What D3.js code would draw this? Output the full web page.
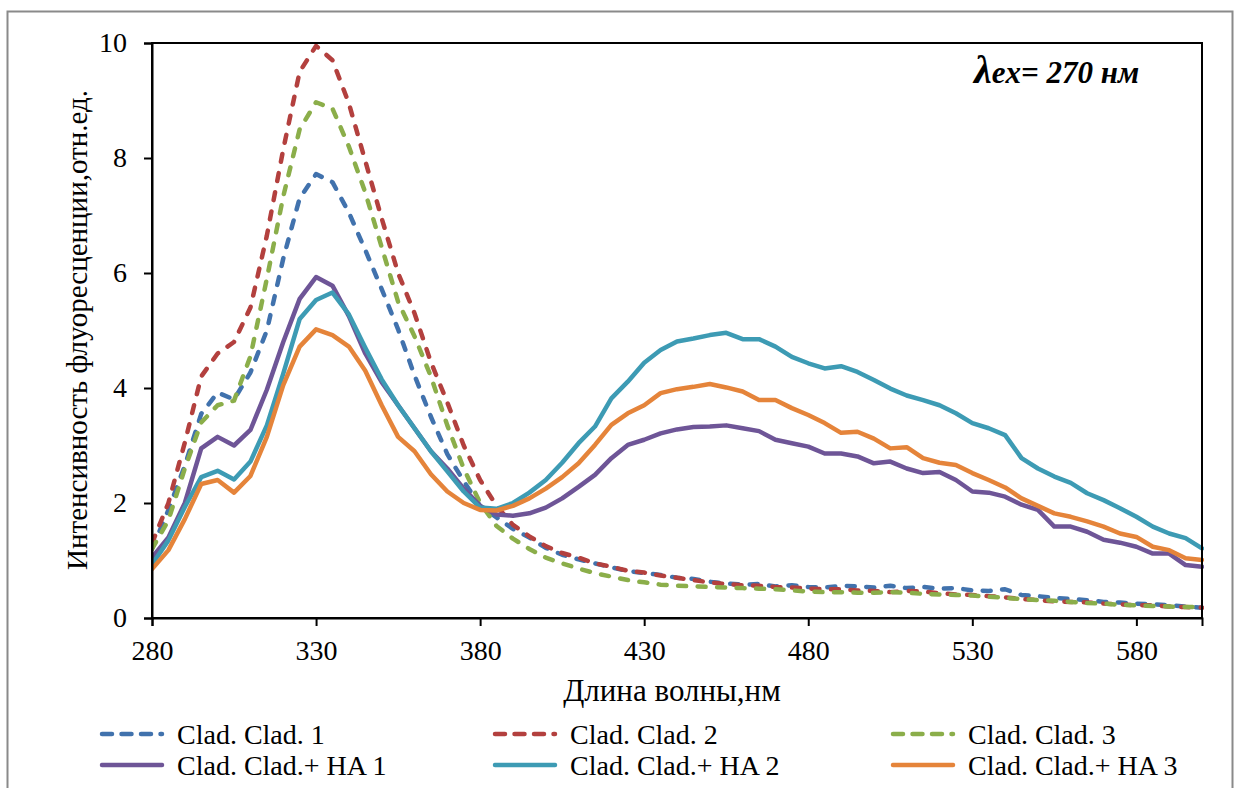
<!DOCTYPE html>
<html><head><meta charset="utf-8">
<script src="https://cdn.jsdelivr.net/npm/d3@7"></script>
<style>
body{margin:0;background:#fff}
svg text{font-family:"Liberation Serif","Times New Roman",serif;fill:#000}
</style>
</head><body>
<svg id="chart" width="1241" height="788"></svg>
<script>
// ---- data ----
const wavelengths = [280,285,290,295,300,305,310,315,320,325,330,335,340,345,350,355,360,365,370,375,380,
  385,390,395,400,405,410,415,420,425,430,435,440,445,450,455,460,465,470,475,480,
  485,490,495,500,505,510,515,520,525,530,535,540,545,550,555,560,565,570,575,580,585,590,595,600];

const clad1 = [1.2,1.88,2.65,3.55,3.92,3.8,4.27,5.0,6.25,7.3,7.72,
  7.58,7.05,6.4,5.72,5.02,4.22,3.5,2.85,2.38,1.95,
  1.75,1.55,1.4,1.22,1.1,1.02,0.95,0.88,0.82,0.78,
  0.75,0.7,0.68,0.63,0.6,0.58,0.59,0.55,0.57,0.54,
  0.53,0.56,0.55,0.53,0.56,0.52,0.54,0.51,0.52,0.48,
  0.47,0.5,0.4,0.38,0.35,0.33,0.31,0.28,0.27,0.25,
  0.24,0.22,0.2,0.18];
const clad2 = [1.3,2.0,3.05,4.2,4.6,4.8,5.4,6.65,8.15,9.5,9.95,
  9.7,8.95,7.95,6.95,6.0,5.3,4.45,3.75,3.0,2.4,
  1.95,1.62,1.42,1.25,1.13,1.05,0.95,0.89,0.82,0.79,
  0.74,0.7,0.66,0.62,0.59,0.57,0.56,0.54,0.53,0.51,
  0.5,0.5,0.48,0.47,0.45,0.47,0.46,0.43,0.41,0.4,
  0.38,0.36,0.33,0.31,0.29,0.28,0.27,0.25,0.24,0.22,
  0.22,0.2,0.19,0.18];
const clad3 = [1.2,1.7,2.6,3.4,3.7,3.78,4.55,5.9,7.33,8.5,8.97,
  8.86,8.2,7.4,6.45,5.5,4.9,4.2,3.35,2.6,2.0,
  1.6,1.38,1.2,1.05,0.95,0.86,0.78,0.72,0.66,0.62,
  0.58,0.56,0.55,0.54,0.53,0.52,0.51,0.5,0.48,0.46,
  0.45,0.45,0.44,0.44,0.45,0.44,0.42,0.41,0.4,0.39,
  0.37,0.35,0.33,0.31,0.3,0.28,0.26,0.25,0.23,0.22,
  0.21,0.2,0.19,0.19];
const cladHA1 = [1.05,1.4,2.0,2.95,3.15,3.0,3.27,3.97,4.8,5.55,5.93,
  5.78,5.25,4.6,4.1,3.7,3.3,2.9,2.6,2.25,1.95,
  1.8,1.78,1.82,1.92,2.08,2.28,2.49,2.78,3.01,3.1,
  3.21,3.28,3.32,3.33,3.35,3.3,3.25,3.1,3.04,2.98,
  2.86,2.86,2.81,2.69,2.72,2.6,2.52,2.54,2.4,2.2,
  2.18,2.11,1.97,1.88,1.59,1.59,1.5,1.36,1.31,1.24,
  1.12,1.12,0.92,0.89];
const cladHA2 = [0.93,1.35,1.93,2.45,2.56,2.41,2.72,3.35,4.25,5.2,5.53,
  5.66,5.28,4.7,4.15,3.7,3.3,2.9,2.55,2.2,1.92,
  1.9,2.0,2.18,2.4,2.7,3.04,3.33,3.82,4.11,4.44,
  4.66,4.81,4.86,4.92,4.96,4.85,4.85,4.72,4.54,4.43,
  4.34,4.38,4.28,4.14,3.99,3.87,3.79,3.7,3.56,3.39,
  3.3,3.18,2.78,2.6,2.46,2.35,2.17,2.05,1.91,1.76,
  1.59,1.47,1.39,1.21];
const cladHA3 = [0.85,1.18,1.72,2.33,2.4,2.18,2.47,3.15,4.05,4.72,5.02,
  4.92,4.72,4.3,3.7,3.15,2.9,2.5,2.2,2.0,1.88,
  1.87,1.95,2.08,2.25,2.45,2.69,3.01,3.36,3.56,3.7,
  3.91,3.98,4.02,4.07,4.01,3.94,3.79,3.79,3.65,3.53,
  3.39,3.22,3.24,3.12,2.95,2.97,2.78,2.7,2.66,2.52,
  2.4,2.27,2.08,1.95,1.82,1.76,1.68,1.59,1.47,1.41,
  1.24,1.18,1.04,1.01];

const seriesNames = ["Clad. Clad. 1","Clad. Clad. 2","Clad. Clad. 3",
  "Clad. Clad.+ HA 1","Clad. Clad.+ HA 2","Clad. Clad.+ HA 3"];
const seriesValues = [clad1, clad2, clad3, cladHA1, cladHA2, cladHA3];
const seriesColors = ["#4172ad","#b3403e","#8bae4a","#6e5597","#3d9bb4","#e5843a"];
const seriesDashed = [true,true,true,false,false,false];

const xTicks = [280,330,380,430,480,530,580];
const yTicks = [0,2,4,6,8,10];
const xTitle = "Длина волны,нм";
const yTitle = "Интенсивность флуоресценции,отн.ед.";

// ---- drawing ----
const FONT = '"Liberation Serif","Times New Roman",serif';
const svg = d3.select("#chart");
const L = 152, R = 1202, T = 43, B = 618;
const x = d3.scaleLinear().domain([280,600]).range([L,R]);
const y = d3.scaleLinear().domain([0,10]).range([B,T]);

// outer chart border
svg.append("path")
  .attr("d","M7.5,800 V11.5 H1232.5 V800")
  .attr("fill","none").attr("stroke","#8a8a8a").attr("stroke-width",2);

svg.append("clipPath").attr("id","clip")
  .append("rect").attr("x",L).attr("y",T-6).attr("width",R-L+2).attr("height",B-T+6);

const line = d3.line().x((d,i)=>x(wavelengths[i])).y(d=>y(d));
const gLines = svg.append("g").attr("clip-path","url(#clip)");
seriesValues.forEach((vals,k)=>{
  gLines.append("path").datum(vals)
    .attr("d",line)
    .attr("fill","none")
    .attr("stroke",seriesColors[k])
    .attr("stroke-width",4.5)
    .attr("stroke-linejoin","round")
    .attr("stroke-linecap","round")
    .attr("stroke-dasharray",seriesDashed[k] ? "8,11.5" : null);
});

// frame
svg.append("rect").attr("x",L).attr("y",T).attr("width",R-L).attr("height",B-T)
  .attr("fill","none").attr("stroke","#000").attr("stroke-width",2);

const gx = svg.append("g").attr("transform",`translate(0,${B})`)
  .call(d3.axisBottom(x).tickValues(xTicks).tickSize(8).tickPadding(14).tickFormat(d3.format("d")));
const gy = svg.append("g").attr("transform",`translate(${L},0)`)
  .call(d3.axisLeft(y).tickValues(yTicks).tickSize(8).tickPadding(17).tickFormat(d3.format("d")));
[gx,gy].forEach(g=>{
  g.attr("font-family",null).style("font-family",FONT);
  g.select(".domain").attr("stroke","#000").attr("stroke-width",2);
  g.selectAll(".tick line").attr("stroke","#000").attr("stroke-width",2);
  g.selectAll(".tick text").attr("font-size",28).style("font-family",FONT).attr("fill","#000");
});

// axis titles
svg.append("text").attr("x",672).attr("y",701).attr("text-anchor","middle")
  .style("font-family",FONT).attr("font-size",31).text(xTitle);
svg.append("text").attr("transform","translate(87,330) rotate(-90)").attr("text-anchor","middle")
  .style("font-family",FONT).attr("font-size",29).text(yTitle);

// annotation
const ann = svg.append("text").attr("x",974).attr("y",83).style("font-family",FONT)
  .attr("font-weight","bold").attr("font-style","italic").attr("font-size",31);
ann.append("tspan").attr("font-size",40).text("λ");
ann.append("tspan").text("ex= 270 нм");

// legend
const legX = [100,493,891], legY = [734,765];
seriesNames.forEach((name,k)=>{
  const col = k%3, row = Math.floor(k/3);
  const lx = legX[col], ly = legY[row];
  svg.append("line").attr("x1",lx+2).attr("x2",lx+62).attr("y1",ly).attr("y2",ly)
    .attr("stroke",seriesColors[k]).attr("stroke-width",4.5).attr("stroke-linecap","round")
    .attr("stroke-dasharray",seriesDashed[k] ? "10,9.5" : null);
  svg.append("text").attr("x",lx+77).attr("y",ly+10).style("font-family",FONT)
    .attr("font-size",28).text(name);
});
</script>
</body></html>
